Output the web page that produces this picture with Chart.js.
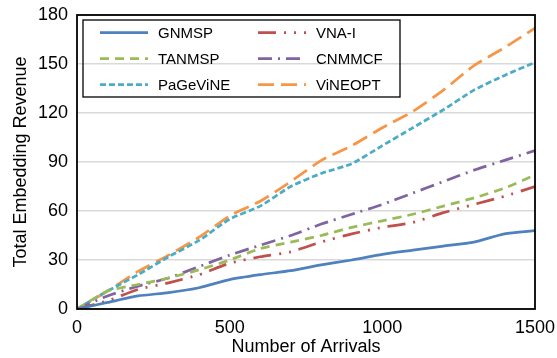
<!DOCTYPE html>
<html>
<head>
<meta charset="utf-8">
<script src="https://cdn.jsdelivr.net/npm/chart.js@4"></script>
<style>
html,body{margin:0;padding:0;background:#fff;}
#wrap{width:557px;height:358px;}
</style>
</head>
<body>
<div id="wrap"><canvas id="c" width="557" height="358"></canvas></div>
<script>
const arrivals = [0,100,200,300,400,500,600,700,800,900,1000,1100,1200,1300,1400,1500];
const gnmsp    = [0,4,8,10,13,18,21,23.5,27,30,33.5,36,38.5,41,46,48];
const vnaI     = [0,5,12,16,21,28,32,35,41,46,50,53,59,64,69,75];
const tanmsp   = [0,11,15,19,24,30,37,41,45,50,54,58,63,68,74,82];
const cnmmcf   = [0,8,14,19,26,33,39,45,52,58,64,71,78,85,91,97];
const pagevine = [0,11,21,32,42,55,63,75,83,89,100,111,122,134,143,151];
const vineopt  = [0,11,23,33,44,57,66,78,91,100,111,121,134,149,160,172];
const seriesNames = ['GNMSP','VNA-I','TANMSP','CNMMCF','PaGeViNE','ViNEOPT'];
const yTicks = [0,30,60,90,120,150,180];
const xTicks = [0,500,1000,1500];

const FONT = '"Liberation Sans", Arial, sans-serif';
const pts = v => arrivals.map((a,i)=>({x:a,y:v[i]}));
const styles = [
  {color:'#4F81BD', dash:[]},
  {color:'#C0504D', dash:[18,8,2,8,2,8]},
  {color:'#9BBB59', dash:[9,6]},
  {color:'#8064A2', dash:[14,6,2,6]},
  {color:'#4BACC6', dash:[6,3]},
  {color:'#F79646', dash:[16,7]}
];
const allVals = [gnmsp,vnaI,tanmsp,cnmmcf,pagevine,vineopt];
const datasets = allVals.map((v,i)=>({
  label: seriesNames[i],
  data: pts(v),
  borderColor: styles[i].color,
  backgroundColor: styles[i].color,
  borderDash: styles[i].dash,
  borderWidth: 2.75,
  borderCapStyle: 'butt',
  pointRadius: 0,
  tension: 0.2,
  fill: false
}));

const framePlugin = {
  id:'frame',
  afterDatasetsDraw(chart){
    const {ctx, chartArea:a} = chart;
    ctx.save();
    ctx.strokeStyle = '#000';
    ctx.lineWidth = 1.8;
    ctx.strokeRect(a.left, a.top, a.right-a.left, a.bottom-a.top);
    // legend box
    const bx = a.left+6, by = a.top+5, bw = 317, bh = 77;
    ctx.lineWidth = 1.3;
    ctx.strokeRect(bx, by, bw, bh);
    ctx.font = '15px ' + FONT;
    ctx.textBaseline = 'middle';
    ctx.fillStyle = '#000';
    chart.data.datasets.forEach((ds,i)=>{
      const col = i%2, row = Math.floor(i/2);
      const y = by + 12.5 + row*26;
      const x0 = bx + (col===0 ? 17 : 175);
      ctx.beginPath();
      ctx.setLineDash(ds.borderDash);
      ctx.strokeStyle = ds.borderColor;
      ctx.lineWidth = 2.75;
      ctx.moveTo(x0, y); ctx.lineTo(x0+48, y);
      ctx.stroke();
      ctx.setLineDash([]);
      ctx.fillText(ds.label, x0+58, y+1);
    });
    ctx.restore();
  }
};

new Chart(document.getElementById('c'), {
  type:'line',
  data:{datasets},
  plugins:[framePlugin],
  options:{
    responsive:false,
    animation:false,
    layout:{padding:{top:15,right:22,left:0,bottom:0}},
    plugins:{legend:{display:false}, tooltip:{enabled:false}},
    scales:{
      x:{
        type:'linear', min:0, max:1500,
        afterBuildTicks(s){ s.ticks = xTicks.map(v=>({value:v})); },
        afterFit(s){ s.height = 49; s.paddingLeft = 0; s.paddingRight = 0; },
        grid:{display:false, drawTicks:false},
        border:{display:false},
        ticks:{color:'#000', font:{family:FONT, size:18}, padding:8, maxRotation:0, callback:v=>String(v)},
        title:{display:true, text:'Number of Arrivals', color:'#000', font:{family:FONT, size:18}, padding:{top:0,bottom:0}}
      },
      y:{
        min:0, max:180,
        afterBuildTicks(s){ s.ticks = yTicks.map(v=>({value:v})); },
        afterFit(s){ s.width = 77; s.paddingTop = 0; s.paddingBottom = 0; },
        grid:{color:'#d9d9d9', lineWidth:1.5, drawTicks:false},
        border:{display:false},
        ticks:{color:'#000', font:{family:FONT, size:18}, padding:9, callback:v=>String(v)},
        title:{display:true, text:'Total Embedding Revenue', color:'#000', font:{family:FONT, size:18}, padding:{top:10,bottom:0}}
      }
    }
  }
});
</script>
</body>
</html>
